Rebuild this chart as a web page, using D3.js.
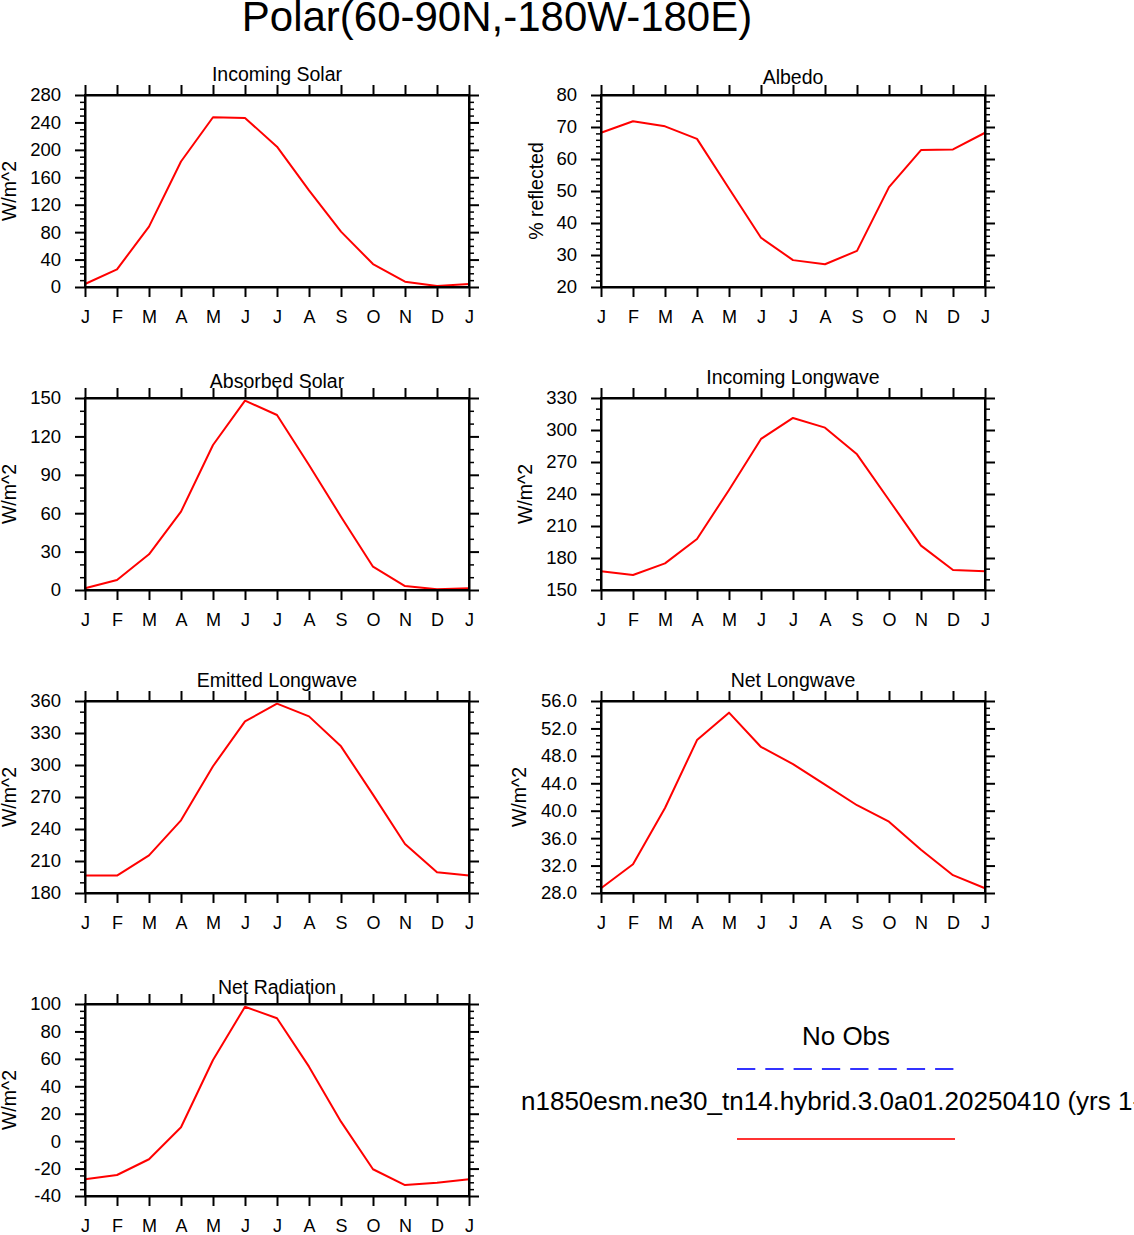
<!DOCTYPE html>
<html>
<head>
<meta charset="utf-8">
<script src="https://cdn.jsdelivr.net/npm/d3@7"></script>
<style>
  html, body { margin: 0; padding: 0; background: #fff; }
  svg { display: block; font-family: "Liberation Sans", Arial, Helvetica, sans-serif; }
</style>
</head>
<body>
<svg id="chart" width="1134" height="1235"></svg>
<script>
// ---------------- data ----------------
const months = ["J","F","M","A","M","J","J","A","S","O","N","D","J"];

const incomingSolar = [4.4, 25.8, 88, 183, 247.5, 246.5, 204.7, 141, 80.7, 33.5, 7.8, 1.5, 4.4];
const albedo        = [68.2, 71.8, 70.2, 66.3, 50.8, 35.4, 28.4, 27.1, 31.3, 51.2, 62.8, 63.0, 68.2];
const absorbedSolar = [1.3, 7.8, 27.9, 61.2, 113.3, 147.9, 136.7, 97.7, 57.3, 18.2, 3.1, 0.5, 1.3];
const incomingLW    = [167.5, 164.1, 175, 197.8, 243.8, 291.6, 311.3, 302.2, 277.2, 234.4, 191.6, 168.8, 167.5];
const emittedLW     = [196.3, 196.3, 215.3, 248.1, 298.8, 340.9, 357.5, 345.6, 317.5, 272.2, 226, 199.4, 196.3];
const netLW         = [28.7, 32.2, 40.4, 50.3, 54.3, 49.3, 46.8, 43.8, 40.8, 38.4, 34.3, 30.6, 28.7];
const netRadiation  = [-27.8, -24.7, -13.2, 10.1, 59.2, 98, 89.6, 54.3, 14.2, -20.5, -32, -30.3, -27.8];

const panelTitles = ["Incoming Solar","Albedo","Absorbed Solar","Incoming Longwave","Emitted Longwave","Net Longwave","Net Radiation"];
const panelUnits  = ["W/m^2","% reflected","W/m^2","W/m^2","W/m^2","W/m^2","W/m^2"];
const panelSeries = [incomingSolar, albedo, absorbedSolar, incomingLW, emittedLW, netLW, netRadiation];
const yDomains    = [[0,280],[20,80],[0,150],[150,330],[180,360],[28,56],[-40,100]];
const yMajorSteps = [40, 10, 30, 30, 30, 4, 20];
const yMinorSteps = [10, 2, 10, 10, 10, 1, 5];
const yDecimals   = [0, 0, 0, 0, 0, 1, 0];

const mainTitle = "Polar(60-90N,-180W-180E)";
const legendObsLabel = "No Obs";
const legendModelLabel = "n1850esm.ne30_tn14.hybrid.3.0a01.20250410 (yrs 1-20)";

// ---------------- layout ----------------
const colX = [85, 601];
const rowY = [95, 398, 701, 1004];
const PW = 384, PH = 192;
const titleOffsets = [14.3, 11, 10, 14, 14, 14, 10];
const ylabelX = [16, 543, 16, 532, 16, 526, 16];

const svg = d3.select("#chart");
const FONT = '"Liberation Sans", Arial, Helvetica, sans-serif';

svg.append("text")
  .attr("x", 497).attr("y", 31)
  .attr("text-anchor", "middle")
  .attr("font-size", 42)
  .attr("fill", "#000")
  .text(mainTitle);

function range(a, b, step) {
  const out = [];
  const n = Math.round((b - a) / step);
  for (let i = 0; i <= n; i++) out.push(+(a + i * step).toFixed(6));
  return out;
}

panelSeries.forEach((series, i) => {
  const col = i % 2, row = Math.floor(i / 2);
  const x0 = colX[col], y0 = rowY[row];
  const g = svg.append("g").attr("transform", `translate(${x0},${y0})`);

  const x = d3.scaleLinear().domain([0, 12]).range([0, PW]);
  const y = d3.scaleLinear().domain(yDomains[i]).range([PH, 0]);

  const majors = range(yDomains[i][0], yDomains[i][1], yMajorSteps[i]);
  const minorsAll = range(yDomains[i][0], yDomains[i][1], yMinorSteps[i]);
  const minors = minorsAll.filter(v => !majors.some(m => Math.abs(m - v) < 1e-6));
  const fmt = v => d3.format("." + yDecimals[i] + "f")(v).replace("\u2212", "-");

  // line
  const line = d3.line().x((d, k) => x(k)).y(d => y(d));
  g.append("path")
    .datum(series)
    .attr("fill", "none")
    .attr("stroke", "#ff0000")
    .attr("stroke-width", 2)
    .attr("stroke-linejoin", "round")
    .attr("d", line);

  // minor y ticks left/right
  const minorLeft = g.append("g").call(d3.axisLeft(y).tickValues(minors).tickSize(5).tickFormat(""));
  const minorRight = g.append("g").attr("transform", `translate(${PW},0)`)
    .call(d3.axisRight(y).tickValues(minors).tickSize(5).tickFormat(""));
  [minorLeft, minorRight].forEach(a => { a.select(".domain").remove(); a.selectAll("line").attr("stroke-width", 1.5); });

  // major axes
  const leftAx = g.append("g").call(
    d3.axisLeft(y).tickValues(majors).tickSize(10).tickSizeOuter(0).tickPadding(14).tickFormat(fmt));
  const rightAx = g.append("g").attr("transform", `translate(${PW},0)`).call(
    d3.axisRight(y).tickValues(majors).tickSize(10).tickSizeOuter(0).tickFormat(""));
  const bottomAx = g.append("g").attr("transform", `translate(0,${PH})`).call(
    d3.axisBottom(x).tickValues(d3.range(13)).tickSize(10).tickSizeOuter(0).tickPadding(13.7)
      .tickFormat(k => months[k]));
  const topAx = g.append("g").call(
    d3.axisTop(x).tickValues(d3.range(13)).tickSize(10).tickSizeOuter(0).tickFormat(""));

  [leftAx, rightAx, bottomAx, topAx].forEach(a => {
    a.select(".domain").attr("stroke", "#000").attr("stroke-width", 2);
    a.selectAll("line").attr("stroke", "#000").attr("stroke-width", 2);
    a.selectAll("text").attr("font-family", FONT).attr("fill", "#000");
  });
  leftAx.selectAll("text").attr("font-size", 18.5);
  bottomAx.selectAll("text").attr("font-size", 18);
  g.append("rect").attr("x", 0).attr("y", 0).attr("width", PW).attr("height", PH)
    .attr("fill", "none").attr("stroke", "#000").attr("stroke-width", 2);

  // title
  g.append("text")
    .attr("x", PW / 2).attr("y", -titleOffsets[i])
    .attr("text-anchor", "middle")
    .attr("font-size", 19.5)
    .attr("fill", "#000")
    .text(panelTitles[i]);

  // y label
  svg.append("text")
    .attr("transform", `translate(${ylabelX[i]},${y0 + PH / 2}) rotate(-90)`)
    .attr("text-anchor", "middle")
    .attr("font-size", 19.5)
    .attr("fill", "#000")
    .text(panelUnits[i]);
});

// ---------------- legend ----------------
const lg = svg.append("g");
const lx = d3.scaleLinear().domain([0, 1]).range([737, 955]);
lg.append("text").attr("x", 846).attr("y", 1045).attr("text-anchor", "middle")
  .attr("font-size", 26).attr("fill", "#000").text(legendObsLabel);
lg.append("line").attr("x1", lx(0)).attr("x2", lx(1)).attr("y1", 1069).attr("y2", 1069)
  .attr("stroke", "#3333ff").attr("stroke-width", 1.8).attr("stroke-dasharray", "18.3,10");
lg.append("text").attr("x", 521).attr("y", 1110).attr("text-anchor", "start")
  .attr("font-size", 26).attr("fill", "#000").text(legendModelLabel);
lg.append("line").attr("x1", lx(0)).attr("x2", lx(1)).attr("y1", 1139).attr("y2", 1139)
  .attr("stroke", "#ff3333").attr("stroke-width", 1.8);
</script>
</body>
</html>
